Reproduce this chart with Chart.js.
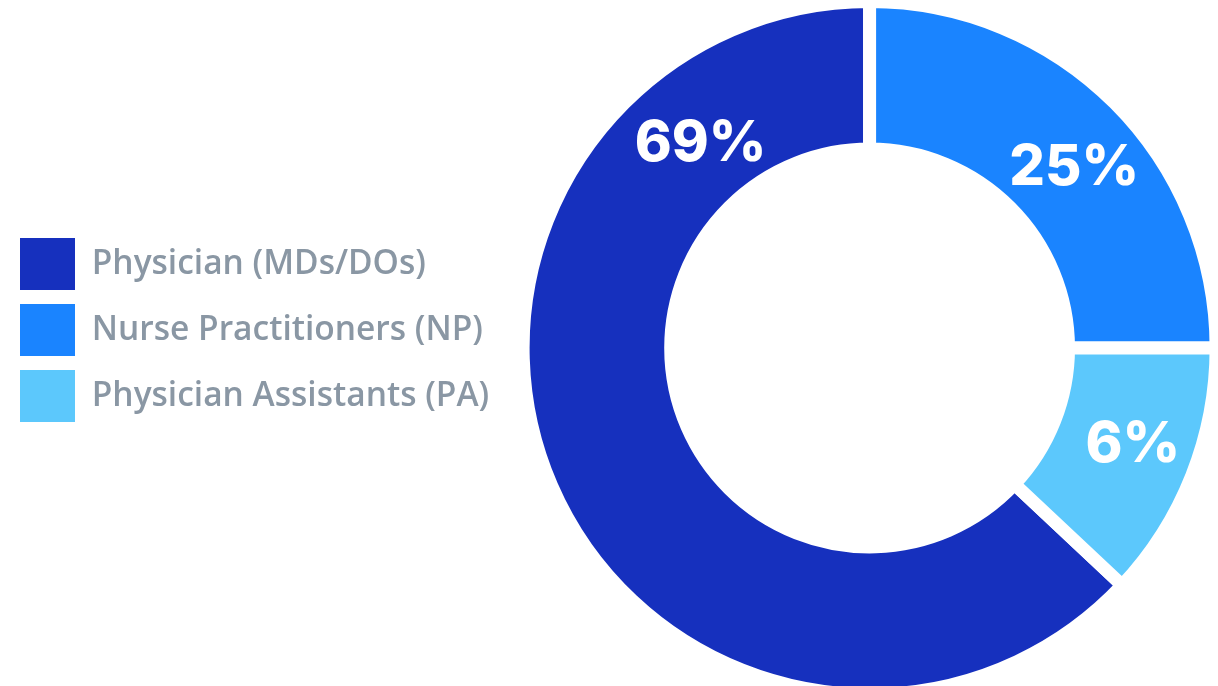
<!DOCTYPE html>
<html>
<head>
<meta charset="utf-8">
<script src="https://cdn.jsdelivr.net/npm/chart.js@4"></script>
<style>
  html, body { margin: 0; padding: 0; background: #fff; overflow: hidden; }
  #wrap { position: absolute; left: 0; top: -5px; width: 1240px; height: 706px; }
</style>
</head>
<body>
<div id="wrap"><canvas id="myChart"></canvas></div>
<script>
const ctx = document.getElementById('myChart');

// categories + values as drawn in the ring (clockwise from the Physician slice)
const categories = ['Physician (MDs/DOs)', 'Nurse Practitioners (NP)', 'Physician Assistants (PA)'];
const shares = [63, 25, 12];
const pctLabels = ['69%', '25%', '6%'];
const colors = ['#1630BE', '#1A84FF', '#5CC8FC'];

// where inside each slice the big label sits (fraction of sweep, radial nudge)
const labelSpot = [0.825, 0.54, 0.47];
const labelNudge = [-8, 0, 8];

const pctPlugin = {
  id: 'pctLabels',
  afterDatasetsDraw(chart) {
    const c = chart.ctx;
    const arcs = chart.getDatasetMeta(0).data;
    c.save();
    c.fillStyle = '#ffffff';
    c.font = '800 56px Inter';
    c.textAlign = 'center';
    c.textBaseline = 'middle';
    arcs.forEach((arc, i) => {
      const p = arc.getProps(['x', 'y', 'startAngle', 'endAngle', 'innerRadius', 'outerRadius'], true);
      const a = p.startAngle + labelSpot[i] * (p.endAngle - p.startAngle);
      const r = (p.innerRadius + p.outerRadius) / 2 + labelNudge[i];
      c.fillText(pctLabels[i], p.x + r * Math.cos(a), p.y + r * Math.sin(a));
    });
    c.restore();
  }
};

const defaultLabels = Chart.overrides.doughnut.plugins.legend.labels.generateLabels;

new Chart(ctx, {
  type: 'doughnut',
  data: {
    labels: categories,
    datasets: [{
      data: shares,
      backgroundColor: colors,
      borderColor: '#ffffff',
      borderWidth: 13
    }]
  },
  options: {
    responsive: true,
    maintainAspectRatio: false,
    animation: false,
    cutout: '57.4%',
    rotation: 360 * (1 - shares[0] / 100),
    layout: { padding: { top: 0, left: 6, right: 0, bottom: 0 } },
    plugins: {
      tooltip: { enabled: false },
      legend: {
        position: 'left',
        align: 'start',
        title: { display: true, text: '', font: { size: 10 }, padding: { top: 217, bottom: 0 } },
        labels: {
          boxWidth: 55,
          boxHeight: 52,
          padding: 14,
          color: '#8A97A4',
          font: { family: 'Open Sans', size: 33.5, weight: '600' },
          generateLabels(chart) {
            return defaultLabels(chart).map(l => Object.assign(l, { lineWidth: 0, strokeStyle: l.fillStyle }));
          }
        }
      }
    }
  },
  plugins: [pctPlugin]
});
</script>
</body>
</html>
